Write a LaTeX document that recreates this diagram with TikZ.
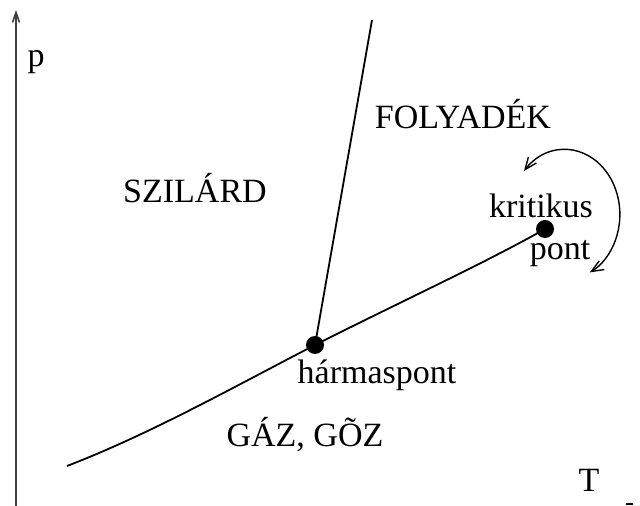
\documentclass[tikz,border=0pt]{standalone}
\usepackage{fontspec}
\setmainfont{Liberation Serif}
\usetikzlibrary{arrows.meta}
\begin{document}
\begin{tikzpicture}[x=1pt,y=1pt,
  lbl/.style={anchor=base,inner sep=0pt,font=\fontsize{34}{34}\selectfont},
  curve/.style={line width=1.8pt},
  dot/.style={circle,fill=black,minimum size=18pt,inner sep=0pt}]
\useasboundingbox (0,0) rectangle (640,506);
\coordinate (axb) at (16,0);
\coordinate (axt) at (16,496);
\draw[line width=1.6pt,black!75,-{Straight Barb[length=10pt,width=7pt]}] (axb) -- (axt);
\node[lbl] (p) at (36,439) {p};
\node[lbl] (T) at (589,14) {T};
\node[dot] (tp) at (315,161) {};
\node[dot] (cp) at (545,277) {};
\coordinate (mt) at (372,486);
\coordinate (cs) at (67,40);
\draw[curve] (tp.center) -- (mt);
\draw[curve] (cs) .. controls (150,72) and (230,117) .. (tp.center)
  .. controls (400,204) and (485,243) .. (cp.center);
\node[lbl] (sz) at (195,303) {SZILÁRD};
\node[lbl] (fo) at (463,377) {FOLYADÉK};
\node[lbl] (kr) at (541,288) {kritikus};
\node[lbl] (po) at (560,246) {pont};
\node[lbl] (hp) at (377,122) {hármaspont};
\node[lbl] (gz) at (305,59) {GÁZ, GÕZ};
\coordinate (as) at (524,335);
\draw[line width=1.4pt,{Straight Barb[length=12pt,width=10pt]}-{Straight Barb[length=12pt,width=10pt]}]
  (as) arc[start angle=138,end angle=-63,x radius=55,y radius=65];
\coordinate (m1) at (626,2);
\coordinate (m2) at (633,2);
\draw[line width=2pt] (m1) -- (m2);
\end{tikzpicture}
\end{document}
